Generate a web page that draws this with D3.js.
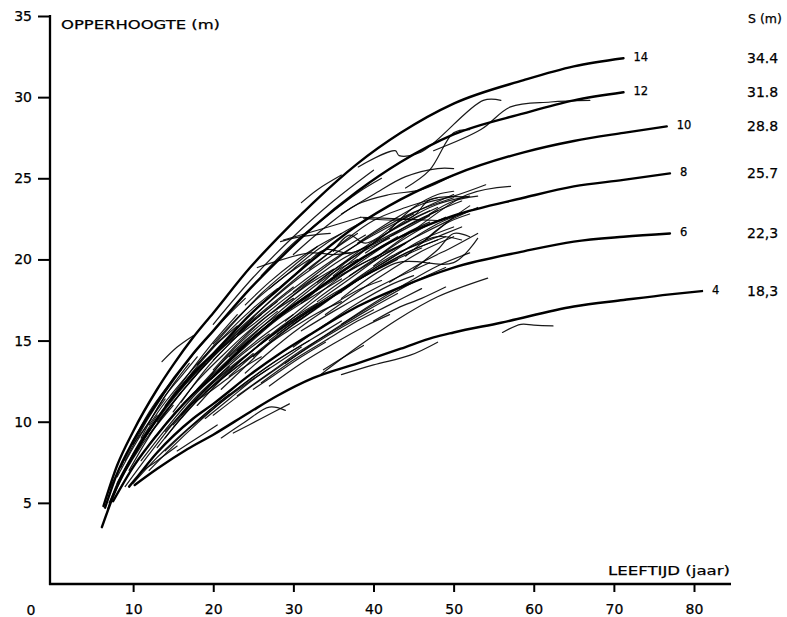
<!DOCTYPE html>
<html><head><meta charset="utf-8">
<script src="https://cdn.jsdelivr.net/npm/d3@7"></script>
<style>
html,body{margin:0;padding:0;background:#fff;}
svg{display:block;}
text{font-family:"DejaVu Sans","Liberation Sans",Arial,sans-serif;fill:#000;stroke:#000;stroke-width:0.25px;}
</style></head>
<body>
<svg id="chart" width="787" height="617"></svg>
<script>
// ---- data (age in years, height in m) ----
const xTicks = [10, 20, 30, 40, 50, 60, 70, 80];
const yTicks = [5, 10, 15, 20, 25, 30, 35];
const curveLabels = ["14", "12", "10", "8", "6", "4"];
const sValues = ["34.4", "31.8", "28.8", "25.7", "22,3", "18,3"];

const curve14 = [[6.3,4.8],[8,7.3],[10,9.4],[13,12.0],[15,13.5],[17.5,15.2],[20,16.7],[24.6,19.5],[28,21.3],[32.5,23.5],[38,25.9],[43.4,27.8],[50,29.6],[58.75,31.05],[65,31.9],[71.2,32.4]];
const curve12 = [[6.5,4.7],[8,6.8],[10,8.8],[13,11.2],[17.5,14.2],[20,15.6],[24.6,18.2],[28,19.9],[32.5,22.0],[38,24.2],[43.4,26.0],[50,27.7],[58.75,29.0],[65,29.8],[71.2,30.3]];
const curve10 = [[6.1,3.5],[8,6.0],[10,7.9],[13,10.2],[17.5,13.0],[20,14.2],[24.6,16.6],[28,18.1],[32.5,20.0],[38,22.1],[43.4,23.7],[50,25.2],[58.75,26.6],[65,27.3],[71.2,27.8],[76.6,28.2]];
const curve8  = [[7.5,5.1],[10,7.2],[13,9.2],[17.5,11.7],[20,12.8],[24.6,15.0],[28,16.4],[32.5,18.0],[38,19.9],[43.4,21.4],[50,22.7],[58.75,23.8],[65,24.5],[71.2,24.9],[77,25.3]];
const curve6  = [[9.5,6.0],[10.5,6.6],[13,8.1],[17.5,10.2],[20,11.1],[24.6,12.9],[28,14.1],[32.5,15.5],[38,17.1],[43.4,18.3],[50,19.5],[58.75,20.5],[65,21.1],[71.2,21.4],[77,21.6]];
const curve4  = [[10.2,6.1],[13,7.1],[16.75,8.3],[20,9.2],[24.6,10.6],[28,11.6],[32.5,12.7],[38,13.6],[43.4,14.5],[47.5,15.2],[50,15.5],[55.9,16.1],[65,17.1],[71.2,17.5],[77,17.85],[81,18.05]];

const plots = [
 [[13.6,13.7],[15.5,14.6],[17.5,15.3]],
 [[31,23.5],[33,24.3],[36,25.2]],
 [[38.1,25.7],[42.7,26.7],[43.2,26.4],[45.9,26.6],[53.7,29.8],[55.9,29.8]],
 [[47.5,26.7],[53.4,28.0],[57.1,29.4],[62.1,29.7],[67,29.8]],
 [[20,16.0],[25,18.9],[30,21.4],[35,23.6],[40,25.5]],
 [[9,7.6],[12,10.3],[16,13.2],[20,15.6],[24,17.6]],
 [[7,5.8],[9,7.8],[12,10.4],[15,12.6]],
 [[26,19.0],[30,21.0],[34,22.6],[38,24.1],[41,25.0]],
 [[36,22.8],[40,24.0],[44,25.1],[48,25.6],[50,25.6]],
 [[44,24.4],[47,25.5],[50,27.8],[52,28.0]],
 [[30,20.3],[34,22.0],[38,23.4],[42,24.0],[46,24.3],[50,25.2]],
 [[10,7.8],[14,10.9],[18,13.2],[22,15.0],[26,16.6]],
 [[12,9.2],[16,11.8],[20,14.0],[25,16.3],[30,18.3]],
 [[15,11.5],[20,14.2],[25,16.5],[30,18.6],[35,20.3],[39,21.5]],
 [[20,13.8],[25,16.2],[30,18.2],[35,20.0],[40,21.5],[45,22.8]],
 [[25,16.8],[30,19.0],[34,20.6],[37,20.4],[42,21.4],[47,22.7]],
 [[30,18.0],[35,19.9],[40,21.6],[45,22.9],[50,23.8]],
 [[32,19.4],[36,21.0],[40,22.4],[44,23.2],[48,23.8]],
 [[35,20.5],[37,21.5],[39,21.0],[44,22.6],[50,24.0]],
 [[38,21.0],[42,22.3],[46,23.4],[50,23.9],[54,24.6]],
 [[13,10.0],[17,12.4],[21,14.6],[25,16.4]],
 [[8,6.2],[10,7.9],[13,10.1],[16,12.0],[19,13.6]],
 [[17,12.4],[21,14.5],[25,16.0],[29,17.6],[33,19.0]],
 [[22,14.0],[26,15.8],[30,17.5],[34,19.0],[38,20.3],[42,21.3]],
 [[28,17.0],[32,18.6],[36,20.0],[40,21.0],[44,22.0],[48,23.0]],
 [[9,6.0],[12,8.0],[15,9.9],[18,11.6],[22,13.4]],
 [[11,7.6],[14,9.5],[18,11.8],[22,13.6],[26,15.2],[30,16.6]],
 [[14,9.4],[18,11.5],[22,13.3],[26,14.8],[30,16.2],[34,17.4]],
 [[16,10.4],[20,12.4],[24,14.0],[28,15.6],[32,16.9],[36,18.0]],
 [[19,11.8],[23,13.6],[27,15.2],[31,16.6],[35,17.9],[39,19.0],[43,20.0]],
 [[22,12.8],[26,14.5],[30,16.0],[34,17.4],[38,18.7],[42,19.8],[46,20.7]],
 [[25,14.0],[29,15.6],[33,17.0],[37,18.4],[41,19.6],[45,20.6],[49,21.4]],
 [[28,15.4],[32,16.8],[36,18.1],[40,19.3],[44,20.4],[48,21.2]],
 [[30,16.0],[34,17.4],[38,18.8],[42,20.0],[46,21.2],[50,22.0]],
 [[33,17.4],[37,18.8],[41,20.2],[45,21.3],[49,22.3],[53,23.2]],
 [[36,18.0],[40,19.4],[44,20.6],[48,21.4],[51,21.2]],
 [[12,8.6],[15,10.4],[18,12.0],[21,13.4],[24,14.8]],
 [[15,9.8],[19,12.0],[23,13.9],[27,15.4]],
 [[20,12.8],[24,14.6],[28,16.3],[32,17.6],[36,18.8]],
 [[24,14.8],[28,16.4],[32,17.8],[36,19.0],[40,20.1],[44,21.0]],
 [[27,15.0],[31,16.5],[35,17.8],[39,19.2],[43,20.4],[47,21.2],[51,22.0]],
 [[32,17.8],[36,19.6],[40,21.0],[44,22.4],[48,23.4],[52,23.9]],
 [[40,19.6],[44,21.0],[48,22.2],[51,22.8]],
 [[34,16.6],[38,18.0],[42,19.3],[46,20.5],[50,21.4]],
 [[10,6.2],[13,7.8],[16,9.2],[19,10.5],[22,11.7]],
 [[12,7.0],[15,8.5],[18,9.9],[21,11.2],[24,12.3],[27,13.3]],
 [[14,8.2],[17,9.6],[20,10.9],[24,12.4],[28,13.8],[32,15.0]],
 [[17,9.6],[20,10.8],[24,12.4],[28,13.8],[32,15.0],[36,16.2]],
 [[20,10.4],[24,11.9],[28,13.3],[32,14.6],[36,15.8],[40,16.9]],
 [[23,11.6],[27,13.0],[31,14.4],[35,15.6],[39,16.8],[43,17.9]],
 [[26,12.4],[30,13.8],[34,15.0],[38,16.2],[42,17.2],[46,18.2]],
 [[29,13.6],[33,15.0],[37,16.3],[41,17.5],[45,18.6],[49,19.5]],
 [[33.4,12.9],[38,14.6],[43,16.3],[48,17.7],[54.25,18.85]],
 [[33.75,13.2],[36,13.9],[38.75,14.7]],
 [[36,16.0],[40,17.3],[44,18.5],[48,19.6],[52,20.4]],
 [[21,9.0],[24,10.0],[27,10.9],[29,10.7]],
 [[22.5,9.3],[26,10.2],[29.5,11.1]],
 [[15.5,8.2],[18,9.0],[20.5,9.8]],
 [[11.2,7.0],[13,7.6],[15.5,8.5]],
 [[27,12.2],[31,13.6],[35,14.8],[39,15.9],[42,16.6]],
 [[56.1,15.5],[58.4,16.0],[60,15.95],[62.4,15.9]],
 [[36,12.9],[40,13.5],[44.6,14.1],[48,14.9]],
 [[40,20.0],[45,21.8],[51.75,24.0],[57.1,24.5]],
 [[36,17.6],[43,19.8],[50,19.8],[53,21.3]],
 [[38.4,22.6],[43,22.5],[48,22.4]],
 [[38.75,22.55],[44.6,22.55],[47.1,23.7],[51.75,23.85]],
 [[25.5,19.5],[32.1,20.4],[35,20.3],[37.1,20.4]],
 [[28.75,21.2],[33,21.8],[38.4,22.6]],
 [[28.4,21.1],[31,21.4],[34.6,21.6]],
 [[18,13.5],[22,15.8],[26,17.9],[30,19.6],[33,20.8]],
 [[11,9.0],[13,10.8],[15,12.3],[17,13.6]],
 [[14,11.0],[17,13.0],[20,14.9],[23,16.6]],
 [[8,6.6],[10,8.4],[12,10.0],[14,11.4]],
 [[16,11.2],[19,13.2],[22,14.8],[25,16.2],[28,17.4]],
 [[18,11.0],[21,12.6],[24,14.0],[27,15.3],[30,16.4],[33,17.3]],
 [[13,8.4],[16,10.2],[19,11.8],[22,13.0],[25,14.2]],
 [[21,12.0],[24,13.4],[27,14.8],[30,15.8],[33,16.7],[36,17.4]],
 [[24,13.0],[27,14.3],[30,15.5],[34,16.9],[38,18.1],[41,18.7]],
 [[30,14.6],[34,16.0],[38,17.3],[42,18.4],[45,19.0]],
 [[42,18.6],[46,19.8],[50,20.8],[53,21.6]],
 [[44,20.2],[47,21.4],[50,22.6],[52,23.3]],
 [[46,21.0],[49,22.2],[52,22.8]],
 [[7.5,5.4],[9,6.9],[11,8.5],[13,9.8],[15,11.0]],
 [[9.5,7.0],[11.5,8.7],[13.5,10.2],[16,11.8]],
 [[23,15.4],[27,17.4],[31,19.1],[35,20.6],[38,21.6]],
 [[19,12.4],[22,14.2],[25,15.6],[28,16.8]],
 [[26,15.6],[29,16.9],[32,18.1],[35,19.2],[38,20.0]],
 [[31,17.3],[34,18.5],[37,19.5],[40,20.5],[43,21.4]],
 [[35,19.0],[38,20.2],[41,21.4],[44,22.3],[47,23.0]],
 [[17,11.0],[20,12.0],[23,13.1],[26,14.0]],
 [[25,12.0],[28,13.0],[31,14.0],[34,14.9]],
 [[40,16.2],[43,17.0],[46,17.6],[49,18.3]],
 [[45,19.4],[48,20.6],[50,21.6],[52,21.4]],
 [[7,5.0],[8.5,6.6],[10,8.0],[12,9.6]],
 [[6.8,4.6],[8,6.2],[9.5,7.6],[11,8.9],[13,10.4]],
 [[8.5,7.2],[10,8.8],[12,10.6],[14,12.0],[16,13.2]],
 [[10,8.6],[12,10.0],[14,11.6],[16,12.8],[18,14.0]],
 [[12,9.8],[14,11.2],[17,13.0],[20,14.6],[23,15.9]],
 [[15,10.6],[18,12.5],[21,14.0],[24,15.4],[27,16.6],[30,17.6]],
 [[18,12.0],[21,13.6],[24,15.0],[27,16.2],[30,17.2],[33,18.2]],
 [[20,13.2],[23,14.8],[26,16.2],[29,17.4],[32,18.5],[35,19.4]],
 [[23,14.4],[26,15.6],[29,16.8],[32,17.9],[35,18.8],[38,19.6],[41,20.3]],
 [[26,14.8],[29,16.0],[32,17.2],[35,18.3],[38,19.3],[41,20.2],[44,21.0]],
 [[29,16.2],[32,17.4],[35,18.6],[38,19.7],[41,20.7],[44,21.6],[47,22.3]],
 [[33,18.6],[36,19.7],[39,20.8],[42,21.7],[45,22.5],[48,23.2]],
 [[37,19.0],[40,20.0],[43,21.0],[46,21.9],[49,22.6]],
 [[39,20.4],[42,21.4],[45,22.3],[48,23.0],[51,23.6]],
 [[16,12.2],[19,14.0],[22,15.6],[25,17.0],[28,18.2]],
 [[20,14.8],[23,16.4],[26,17.8],[29,19.0],[32,20.0]],
 [[24,17.2],[27,18.6],[30,19.8],[33,20.8],[36,21.6]],
 [[27,18.2],[30,19.4],[33,20.6],[36,21.6],[39,22.4]],
 [[14,9.0],[17,10.8],[20,12.2],[23,13.4],[26,14.4]],
 [[19,10.2],[22,11.4],[25,12.6],[28,13.6],[31,14.6]],
 [[31,15.6],[35,16.8],[39,17.9],[43,18.9],[47,19.8]],
 [[42,21.8],[45,23.2],[48,24.0],[50,24.2]],
 [[47,22.8],[50,23.6],[53,23.9]]
];

// ---- drawing ----
const svg = d3.select("#chart");
const x = d3.scaleLinear().domain([0, 80]).range([53, 694]);
const y = d3.scaleLinear().domain([0, 35]).range([584, 16]);

const thin = d3.line().x(d => x(d[0])).y(d => y(d[1])).curve(d3.curveCatmullRom.alpha(0.5));
const thick = d3.line().x(d => x(d[0])).y(d => y(d[1])).curve(d3.curveMonotoneX);

svg.append("g").selectAll("path").data(plots).join("path")
  .attr("d", thin).attr("fill", "none")
  .attr("stroke", "#000").attr("stroke-width", 1.2)
  .attr("stroke-opacity", 0.9).attr("stroke-linecap", "round");

const curves = [curve14, curve12, curve10, curve8, curve6, curve4];
svg.append("g").selectAll("path").data(curves).join("path")
  .attr("d", thick).attr("fill", "none")
  .attr("stroke", "#000").attr("stroke-width", 2.4).attr("stroke-linecap", "round");

// curve labels at end of each curve
svg.append("g").selectAll("text").data(curves).join("text")
  .attr("x", d => x(d[d.length - 1][0]) + 10)
  .attr("y", d => y(d[d.length - 1][1]) - 1)
  .attr("font-size", 11.5).attr("dominant-baseline", "middle")
  .text((d, i) => curveLabels[i]);

// S values
svg.append("text").attr("x", 748).attr("y", 23).attr("font-size", 12.5).text("S (m)");
svg.append("g").selectAll("text").data(curves).join("text")
  .attr("x", 747)
  .attr("y", d => y(d[d.length - 1][1]) + 1)
  .attr("font-size", 14).attr("dominant-baseline", "middle")
  .text((d, i) => sValues[i]);

// axes
const axisG = svg.append("g");
axisG.append("line").attr("x1", 50).attr("x2", 50).attr("y1", 15).attr("y2", 585)
  .attr("stroke", "#000").attr("stroke-width", 2.3);
axisG.append("line").attr("x1", 49).attr("x2", 731).attr("y1", 584).attr("y2", 584)
  .attr("stroke", "#000").attr("stroke-width", 2.3);

const xAxis = d3.axisBottom(x).tickValues(xTicks).tickSize(8).tickPadding(12);
const gx = svg.append("g").attr("transform", "translate(0,584)").call(xAxis);
gx.select(".domain").remove();
gx.selectAll(".tick line").attr("stroke", "#000").attr("stroke-width", 2);
gx.selectAll(".tick text").attr("font-size", 14).attr("font-family", "DejaVu Sans, sans-serif");

const yAxis = d3.axisLeft(y).tickValues(yTicks).tickSize(12).tickPadding(6);
const gy = svg.append("g").attr("transform", "translate(50,0)").call(yAxis);
gy.select(".domain").remove();
gy.selectAll(".tick line").attr("stroke", "#000").attr("stroke-width", 2);
gy.selectAll(".tick text").attr("font-size", 14).attr("font-family", "DejaVu Sans, sans-serif");

svg.append("text").attr("x", 31).attr("y", 615).attr("font-size", 14).attr("text-anchor", "middle").text("0");

svg.append("text").attr("x", 61).attr("y", 29).attr("font-size", 13)
  .attr("textLength", 159).attr("lengthAdjust", "spacingAndGlyphs").text("OPPERHOOGTE (m)");
svg.append("text").attr("x", 608).attr("y", 575).attr("font-size", 13)
  .attr("textLength", 122).attr("lengthAdjust", "spacingAndGlyphs").text("LEEFTIJD (jaar)");
</script>
</body></html>
